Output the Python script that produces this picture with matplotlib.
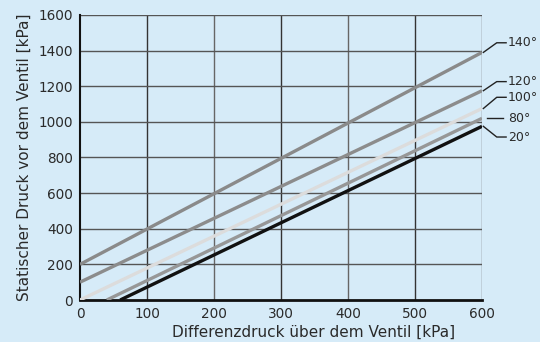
"""
Statischer Druck vor dem Ventil vs. Differenzdruck, je Temperatur
"""
import matplotlib.pyplot as plt

# endpoints of each temperature line: (x_start, y_start), (x_end, y_end) in kPa
temps = ['20°', '80°', '100°', '120°', '140°']
x_start = [60, 40, 0, 0, 0]
y_start = [0, 0, 0, 100, 200]
x_end = [600, 600, 600, 600, 600]
y_end = [975, 1020, 1075, 1175, 1390]
colors = ['#111111', '#979797', '#dcdcdc', '#8c8c8c', '#8a8a8a']

# label positions (y of text)
label_y = [915, 1020, 1138, 1226, 1444]

xticks = [0, 100, 200, 300, 400, 500, 600]
yticks = [0, 200, 400, 600, 800, 1000, 1200, 1400, 1600]

bg = '#d6ebf8'
plt.rcParams['font.family'] = ['DejaVu Sans']

fig = plt.figure(figsize=(5.4, 3.42), dpi=100, facecolor=bg)
ax = fig.add_axes([80 / 540, 42 / 342, 402 / 540, 285 / 342])
ax.set_facecolor(bg)

for xv in xticks[1:]:
    ax.axvline(xv, color='#333333' if xv % 200 else '#666666', lw=1.0, zorder=1)
for yv in yticks[1:]:
    ax.axhline(yv, color='#555555', lw=1.0, zorder=1)

for i in range(len(temps)):
    ax.plot([x_start[i], x_end[i]], [y_start[i], y_end[i]], color=colors[i],
            lw=2.4, solid_capstyle='butt', zorder=3)
    # leader line to the label
    if temps[i] == '80°':
        ax.plot([607, 631], [label_y[i], label_y[i]], color='#222222', lw=1.0, clip_on=False)
    else:
        ax.plot([602, 622, 636], [y_end[i], label_y[i], label_y[i]], color='#222222',
                lw=1.0, clip_on=False)
    ax.text(639, label_y[i], temps[i], fontsize=9, va='center', ha='left', color='#2a2a2a')

ax.set_xlim(0, 600)
ax.set_ylim(0, 1600)
ax.set_xticks(xticks)
ax.set_yticks(yticks)
ax.tick_params(length=0, labelsize=9.8, colors='#2a2a2a', pad=5)
for s in ['top', 'right']:
    ax.spines[s].set_visible(False)
ax.spines['left'].set_linewidth(1.5)
ax.spines['bottom'].set_linewidth(2.0)
ax.spines['left'].set_color('#111111')
ax.spines['bottom'].set_color('#111111')

ax.set_xlabel('Differenzdruck über dem Ventil [kPa]', fontsize=11, color='#2a2a2a', labelpad=3)
ax.xaxis.label.set_x(0.582)
ax.set_ylabel('Statischer Druck vor dem Ventil [kPa]', fontsize=11, color='#2a2a2a', labelpad=5)

fig.savefig('out.png', dpi=100, facecolor=bg)
